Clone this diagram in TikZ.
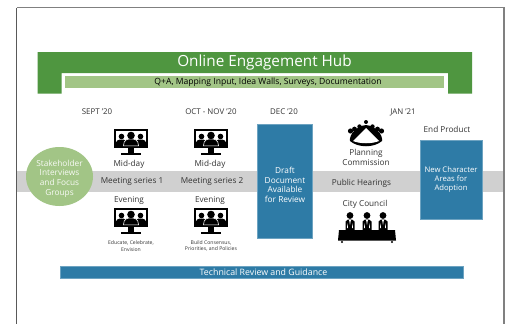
\documentclass[tikz,border=0pt]{standalone}
\usepackage{fontspec}
\setmainfont{Open Sans}
\usetikzlibrary{shapes.geometric}
\definecolor{hubgreen}{HTML}{4F9640}
\definecolor{lightgreen}{HTML}{A2C586}
\definecolor{panelblue}{HTML}{2E7BA6}
\definecolor{bandgray}{HTML}{D0D0D0}
\definecolor{inkgray}{HTML}{333333}

\tikzset{
  label text/.style={text=inkgray, font=\fontsize{8.2}{10}\selectfont, align=center, inner sep=0pt},
  date text/.style={text=inkgray, font=\fontsize{7.9}{9}\selectfont, inner sep=0pt},
  small text/.style={text=inkgray, font=\fontsize{5.1}{6.5}\selectfont, align=center, inner sep=0pt},
  panel text/.style={text=white, font=\fontsize{8.3}{9.6}\selectfont, align=center, inner sep=0pt},
  panel/.style={fill=panelblue, draw=panelblue!70!white, line width=0.5pt, inner sep=0pt},
  monitor/.pic={
    \fill[black] (-17,-13) rectangle (17,6);
    \fill[white] (-14.8,-10.8) rectangle (14.8,3.8);
    \fill[black] (-3,6) rectangle (3,11);
    \fill[black] (-10,10.5) rectangle (10,13);
    \foreach \px in {-9.5,9.5} {
      \fill[black] (\px,-5.5) circle (2.8);
      \fill[black] (\px-6,3.8) .. controls (\px-6,-2) and (\px-3,-2.5) .. (\px,-2.5) .. controls (\px+3,-2.5) and (\px+6,-2) .. (\px+6,3.8) -- cycle;
    }
    \fill[black, draw=white, line width=0.6pt] (-7.5,3.8) .. controls (-7.5,-2.5) and (-3.5,-3) .. (0,-3) .. controls (3.5,-3) and (7.5,-2.5) .. (7.5,3.8) -- cycle;
    \fill[black] (0,-6.5) circle (3.8);
  },
  seated/.pic={
    \fill[black] (0,-6.5) circle (3.4);
    \fill[black] (-4.5,8) -- (-4.5,-0.5) -- (-2,-2.5) -- (2,-2.5) -- (4.5,-0.5) -- (4.5,8) -- cycle;
    \fill[white] (-0.9,-2) -- (0.9,-2) -- (0,3) -- cycle;
    \fill[white] (-3,6) -- (-2.4,1) -- (-2,6) -- cycle;
    \fill[white] (3,6) -- (2.4,1) -- (2,6) -- cycle;
  },
  chamber/.pic={
    \fill[black] (-16,8) .. controls (-17,2) and (-10,-7) .. (0,-8) .. controls (10,-7) and (17,2) .. (16,8) .. controls (8,15) and (-8,15) .. (-16,8) -- cycle;
    \fill[white] (-13,8) .. controls (-8,3) and (-3,-2) .. (0,-5) .. controls (3,-2) and (8,3) .. (13,8) .. controls (6,11) and (-6,11) .. (-13,8) -- cycle;
    \foreach \dx/\dy/\dr in {-15.5/-2/2.6,-11.5/-4/2.4,-6.5/-6.5/2.2,0/-11/2,6.5/-6.5/2.2,11.5/-4/2.4,15.5/-2/2.6} {
      \fill[black] (\dx,\dy) circle (\dr);
    }
  },
}

\begin{document}
\begin{tikzpicture}[x=1pt, y=-1pt]
  \useasboundingbox (0,0) rectangle (507,324);
  \fill[white] (0,0) rectangle (507,324);

  % frame
  \draw[black!65, line width=1.2pt] (16.5,324) -- (16.5,7.5);
  \draw[black!50, line width=1.2pt] (16.5,7.5) -- (504,7.5) -- (504,324);

  % hub banner
  \fill[hubgreen] (37.5,52) -- (472,52) -- (472,93.5) -- (448,93.5) -- (448,73) -- (61.5,73) -- (61.5,93.5) -- (37.5,93.5) -- cycle;
  \fill[lightgreen] (65,76) rectangle (444,88);
  \node[text=white, font=\fontsize{15.3}{17}\selectfont, inner sep=0pt] (title) at (264.5,62.5) {Online Engagement Hub};
  \node[text=black, font=\fontsize{8.6}{10}\selectfont, inner sep=0pt] (tools) at (268,82) {Q+A, Mapping Input, Idea Walls, Surveys, Documentation};

  % grey band and side blocks
  \fill[bandgray] (17,171) rectangle (503.4,192);
  \node[fill=lightgreen, ellipse, inner sep=0pt, minimum width=67pt, minimum height=59pt] (stake) at (59.5,176.5) {};
  \node[panel text, text=white!92!lightgreen] (staketext) at ([yshift=-2pt]stake.center) {Stakeholder\\Interviews\\and Focus\\Groups};
  \node[panel, minimum width=55pt, minimum height=113.5pt] (draft) at (285,181.2) {};
  \node[panel text] (drafttext) at ([yshift=-3.6pt]draft.center) {Draft\\Document\\Available\\for Review};
  \node[panel, panel text, font=\fontsize{7.7}{9}\selectfont, minimum width=62pt, minimum height=78.5pt] (adopt) at (451,179.7) {New Character\\Areas for\\Adoption};
  \node[panel, panel text, font=\fontsize{8.8}{10}\selectfont, minimum width=402.5pt, minimum height=12pt] (review) at (261.7,272) {};
  \node[panel text, font=\fontsize{8.8}{10}\selectfont] (reviewtext) at (263.5,272) {Technical Review and Guidance};

  % dates
  \node[date text] (sept) at (97,112) {SEPT '20};
  \node[date text] (oct) at (211,112) {OCT - NOV '20};
  \node[date text] (dec) at (284,112) {DEC '20};
  \node[date text] (jan) at (403,112) {JAN '21};
  \node[label text] (product) at (447,129) {End Product};

  % meeting series
  \pic at (131,142) {monitor};
  \pic at (211,142) {monitor};
  \pic at (131,221) {monitor};
  \pic at (211,221) {monitor};
  \node[label text] (midA) at (129,164) {Mid-day};
  \node[label text] (midB) at (210,164) {Mid-day};
  \node[label text] (seriesA) at (132,181.5) {Meeting series 1};
  \node[label text] (seriesB) at (212,181.5) {Meeting series 2};
  \node[label text] (eveA) at (129,200.5) {Evening};
  \node[label text] (eveB) at (210,200.5) {Evening};
  \node[small text] (goalA) at (131,246) {Educate, Celebrate,\\Envision};
  \node[small text] (goalB) at (211,246) {Build Consensus,\\Priorities, and Policies};

  % public hearings
  \pic at (366,133) {chamber};
  \node[label text] (plan) at (366,157) {Planning\\Commission};
  \node[label text] (hear) at (361.5,183) {Public Hearings};
  \node[label text] (city) at (365,204) {City Council};
  \foreach \sx in {350,367,383} {
    \pic at (\sx,222) {seated};
  }
  \fill[black] (339,230) -- (395,230) -- (396,240.5) -- (338,240.5) -- cycle;
  \fill[black] (342,242) circle (1.2);
  \fill[black] (392,242) circle (1.2);
\end{tikzpicture}
\end{document}
